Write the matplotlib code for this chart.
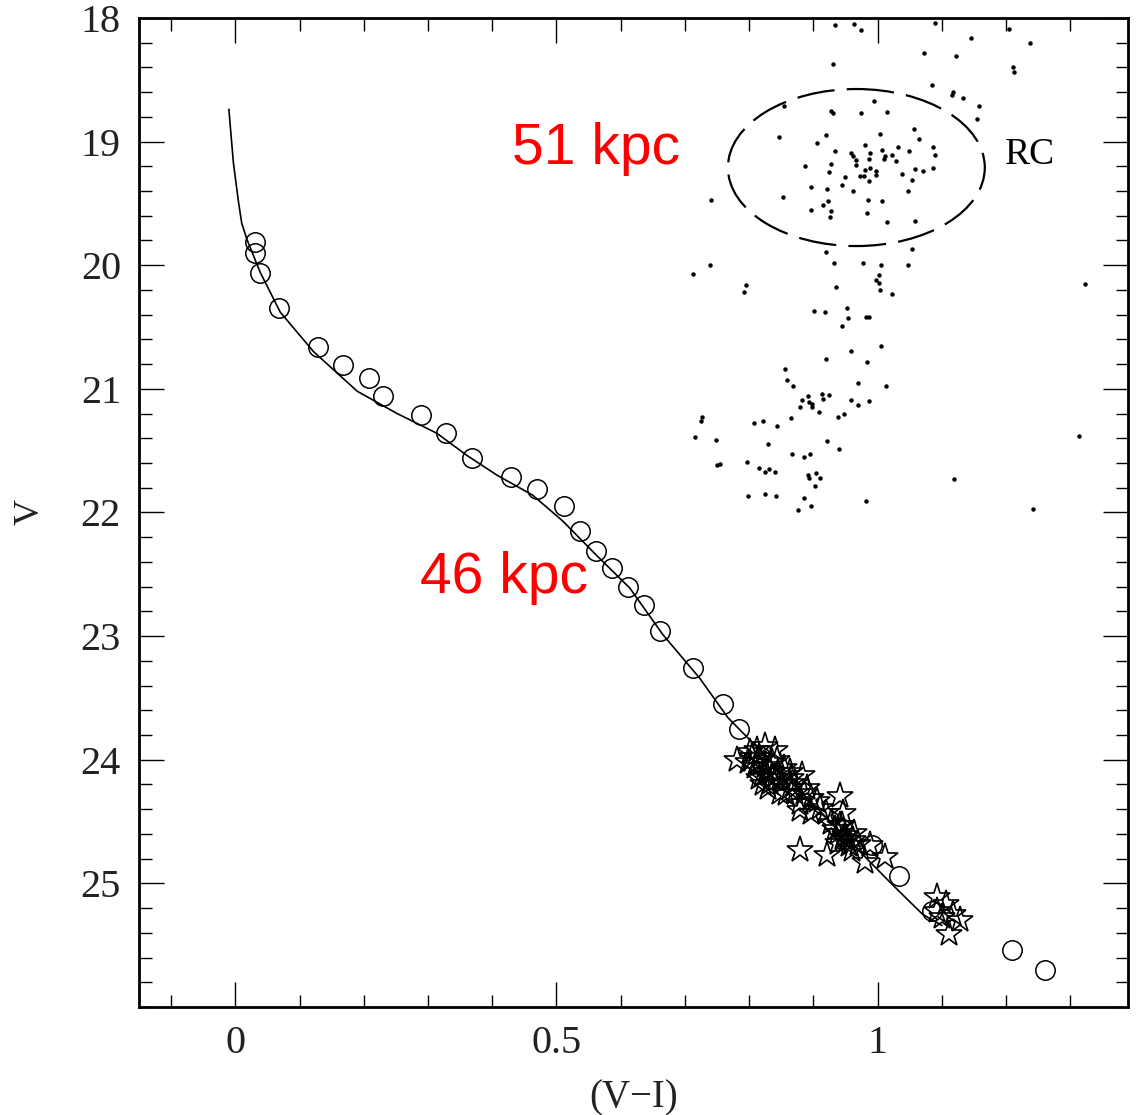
import matplotlib
matplotlib.use("Agg")
import matplotlib.pyplot as plt
from matplotlib.patches import Ellipse
from matplotlib.ticker import MultipleLocator, FixedLocator

# fiducial line
line_vi = [-0.010, -0.003, 0.005, 0.010, 0.018, 0.039, 0.070, 0.122, 0.190, 0.252,
           0.314, 0.361, 0.408, 0.463, 0.510, 0.563, 0.614, 0.666, 0.723, 0.767,
           1.023, 1.070, 1.100]
line_v = [18.74, 19.17, 19.49, 19.66, 19.79, 20.06, 20.38, 20.70, 21.02, 21.20,
          21.36, 21.54, 21.70, 21.86, 22.07, 22.35, 22.61, 22.99, 23.34, 23.66,
          25.01, 25.25, 25.34]

# open circles
circ_vi = [0.030, 0.030, 0.039, 0.068, 0.129, 0.168, 0.208, 0.230, 0.289, 0.328,
           0.369, 0.429, 0.470, 0.512, 0.537, 0.561, 0.586, 0.611, 0.636, 0.661,
           0.712, 0.759, 0.785, 0.991, 1.034, 1.084, 1.210, 1.260]
circ_v = [19.81, 19.90, 20.06, 20.35, 20.66, 20.81, 20.91, 21.06, 21.21, 21.36,
          21.56, 21.71, 21.81, 21.95, 22.15, 22.31, 22.45, 22.60, 22.75, 22.96,
          23.26, 23.55, 23.75, 24.69, 24.94, 25.22, 25.54, 25.70]

# open stars
star_vi = [0.781, 0.812, 0.843, 0.883, 0.941, 0.946, 0.879, 0.922, 0.980, 1.011,
           0.988, 0.879, 0.821, 0.858, 0.905, 0.946, 0.961, 0.801, 0.816, 0.824,
           0.832, 0.835, 0.845, 0.852, 0.863, 0.871, 0.886, 0.897, 0.910, 0.919,
           0.809, 0.820, 0.798, 0.829, 0.848, 0.880, 0.896, 0.927, 0.933, 0.941,
           0.949, 0.956, 0.938, 0.964, 0.863, 0.840, 0.824, 0.890, 1.092, 1.107,
           1.128, 1.112, 1.092, 1.117, 1.101, 0.804, 0.813, 0.826, 0.835, 0.848,
           0.855, 0.871, 0.832, 0.816, 0.866, 0.938, 0.953, 0.944, 0.960, 0.969]
star_v = [24.00, 23.92, 24.00, 24.12, 24.29, 24.43, 24.73, 24.77, 24.83, 24.79,
          24.69, 24.41, 24.20, 24.28, 24.33, 24.63, 24.65, 23.94, 23.98, 24.05,
          24.08, 24.15, 24.10, 24.19, 24.23, 24.19, 24.27, 24.31, 24.39, 24.43,
          24.06, 24.13, 24.02, 24.23, 24.27, 24.35, 24.43, 24.51, 24.56, 24.53,
          24.61, 24.69, 24.67, 24.59, 24.10, 23.92, 23.89, 24.23, 25.11, 25.17,
          25.30, 25.41, 25.22, 25.25, 25.27, 23.98, 24.02, 24.10, 24.02, 24.15,
          24.07, 24.27, 24.19, 24.15, 24.15, 24.59, 24.65, 24.53, 24.73, 24.68]

# field stars (dots)
dot_vi = [0.934, 0.963, 0.974, 1.089, 1.204, 1.145, 1.237, 1.072, 1.122, 0.930,
          1.211, 1.212, 1.085, 1.118, 1.116, 1.133, 1.158, 1.155, 0.995, 0.855,
          0.928, 0.930, 0.975, 1.014, 0.846, 0.920, 0.906, 1.004, 1.057, 1.064,
          0.981, 1.032, 1.087, 0.933, 0.958, 0.989, 1.007, 0.962, 1.022, 1.012,
          1.049, 1.089, 0.967, 0.986, 1.010, 1.028, 0.928, 0.887, 0.967, 0.988,
          0.981, 0.998, 0.924, 1.058, 1.087, 1.038, 1.071, 0.972, 0.979, 0.950,
          0.998, 0.986, 1.054, 0.897, 0.921, 0.944, 0.962, 1.048, 0.853, 0.740,
          0.985, 1.007, 0.923, 0.915, 0.896, 0.928, 0.983, 0.926, 1.014, 1.058,
          0.919, 1.053, 0.932, 0.978, 1.006, 1.047, 0.739, 0.712, 1.002, 0.998,
          1.002, 0.795, 0.792, 0.936, 1.004, 1.023, 0.901, 0.918, 0.953, 0.954,
          0.982, 0.986, 0.944, 1.006, 0.958, 0.919, 0.984, 0.856, 0.859, 0.868,
          0.970, 1.013, 0.913, 0.925, 0.892, 0.915, 0.882, 0.893, 0.898, 0.898,
          0.880, 0.959, 0.986, 0.970, 0.909, 0.947, 0.939, 0.866, 0.726, 0.725,
          0.808, 0.822, 0.843, 1.323, 0.716, 0.748, 0.830, 0.921, 0.940, 1.314,
          0.867, 0.885, 0.895, 0.750, 0.754, 0.797, 0.815, 0.831, 0.824, 0.840,
          0.891, 0.893, 0.904, 0.911, 0.902, 1.119, 0.799, 0.825, 0.842, 0.886,
          0.896, 0.876, 0.982, 1.242]
dot_v = [18.06, 18.05, 18.10, 18.04, 18.09, 18.16, 18.20, 18.28, 18.31, 18.37,
         18.40, 18.44, 18.54, 18.60, 18.62, 18.65, 18.71, 18.82, 18.67, 18.71,
         18.75, 18.77, 18.77, 18.76, 18.96, 18.95, 19.01, 18.94, 18.90, 18.98,
         19.03, 19.04, 19.04, 19.08, 19.09, 19.09, 19.07, 19.12, 19.11, 19.12,
         19.08, 19.11, 19.15, 19.14, 19.14, 19.16, 19.18, 19.20, 19.19, 19.21,
         19.23, 19.24, 19.25, 19.22, 19.21, 19.26, 19.24, 19.28, 19.28, 19.29,
         19.27, 19.32, 19.31, 19.37, 19.38, 19.35, 19.40, 19.40, 19.45, 19.47,
         19.47, 19.48, 19.48, 19.51, 19.55, 19.56, 19.58, 19.61, 19.65, 19.64,
         19.89, 19.87, 19.98, 19.98, 20.00, 20.00, 20.00, 20.07, 20.08, 20.12,
         20.14, 20.16, 20.22, 20.18, 20.20, 20.23, 20.37, 20.38, 20.35, 20.43,
         20.42, 20.42, 20.49, 20.65, 20.69, 20.76, 20.78, 20.84, 20.93, 20.98,
         20.95, 20.98, 21.04, 21.05, 21.06, 21.08, 21.09, 21.11, 21.12, 21.15,
         21.15, 21.09, 21.10, 21.13, 21.19, 21.20, 21.23, 21.24, 21.23, 21.26,
         21.28, 21.26, 21.30, 20.15, 21.39, 21.41, 21.45, 21.42, 21.49, 21.38,
         21.53, 21.55, 21.53, 21.62, 21.61, 21.59, 21.64, 21.65, 21.67, 21.67,
         21.70, 21.72, 21.68, 21.72, 21.79, 21.73, 21.87, 21.85, 21.87, 21.88,
         21.95, 21.98, 21.91, 21.97]

rc_center = (0.967, 19.21)
rc_size = (0.40, 1.27)

x_ticks = [0, 0.5, 1]
x_ticklabels = ["0", "0.5", "1"]
y_ticks = [18, 19, 20, 21, 22, 23, 24, 25]

serif = "Liberation Serif"

fig = plt.figure(figsize=(11.4, 11.15), dpi=100)
ax = fig.add_axes([0.1219, 0.0969, 0.8676, 0.887])

ax.plot(dot_vi, dot_v, "o", ms=3.2, color="black", mec="none", zorder=2)
ax.plot(line_vi, line_v, "-", color="black", lw=1.2, zorder=3)
ax.plot(circ_vi, circ_v, "o", ms=14, mfc="none", mec="black", mew=1.1, zorder=4)
ax.plot(star_vi, star_v, "*", ms=20, mfc="none", mec="black", mew=1.2, zorder=4)

ell = Ellipse(rc_center, rc_size[0], rc_size[1], fill=False, color="black",
              lw=1.6, linestyle=(0, (17, 5.5)), zorder=3)
ax.add_patch(ell)

ax.text(1.2375, 19.11, "RC", fontsize=27, family=serif, ha="center", va="center")
ax.text(0.561, 19.185, "51 kpc", fontsize=41, color="red",
        family="Liberation Sans", ha="center", va="baseline")
ax.text(0.418, 22.653, "46 kpc", fontsize=41, color="red",
        family="Liberation Sans", ha="center", va="baseline")

ax.set_xlim(-0.15, 1.39)
ax.set_ylim(26, 18)

ax.xaxis.set_major_locator(FixedLocator(x_ticks))
ax.set_xticklabels(x_ticklabels)
ax.xaxis.set_minor_locator(MultipleLocator(0.1))
ax.yaxis.set_major_locator(FixedLocator(y_ticks))
ax.set_yticklabels([str(t) for t in y_ticks])
ax.yaxis.set_minor_locator(MultipleLocator(0.2))

ax.tick_params(which="both", direction="in", top=True, right=True, width=1.0)
ax.tick_params(which="major", length=18, labelsize=29, pad=13)
ax.tick_params(which="minor", length=9)
for lab in ax.get_xticklabels() + ax.get_yticklabels():
    lab.set_family(serif)
    lab.set_color("#222222")

for sp in ax.spines.values():
    sp.set_linewidth(2.0)

ax.set_xlabel("(V\u2212I)", fontsize=28, family=serif, color="#222222")
ax.set_ylabel("V", fontsize=26, family=serif, color="#222222")
ax.xaxis.set_label_coords(0.5, -0.073)
ax.yaxis.set_label_coords(-0.093, 0.5)

fig.savefig("out.png", dpi=100)
